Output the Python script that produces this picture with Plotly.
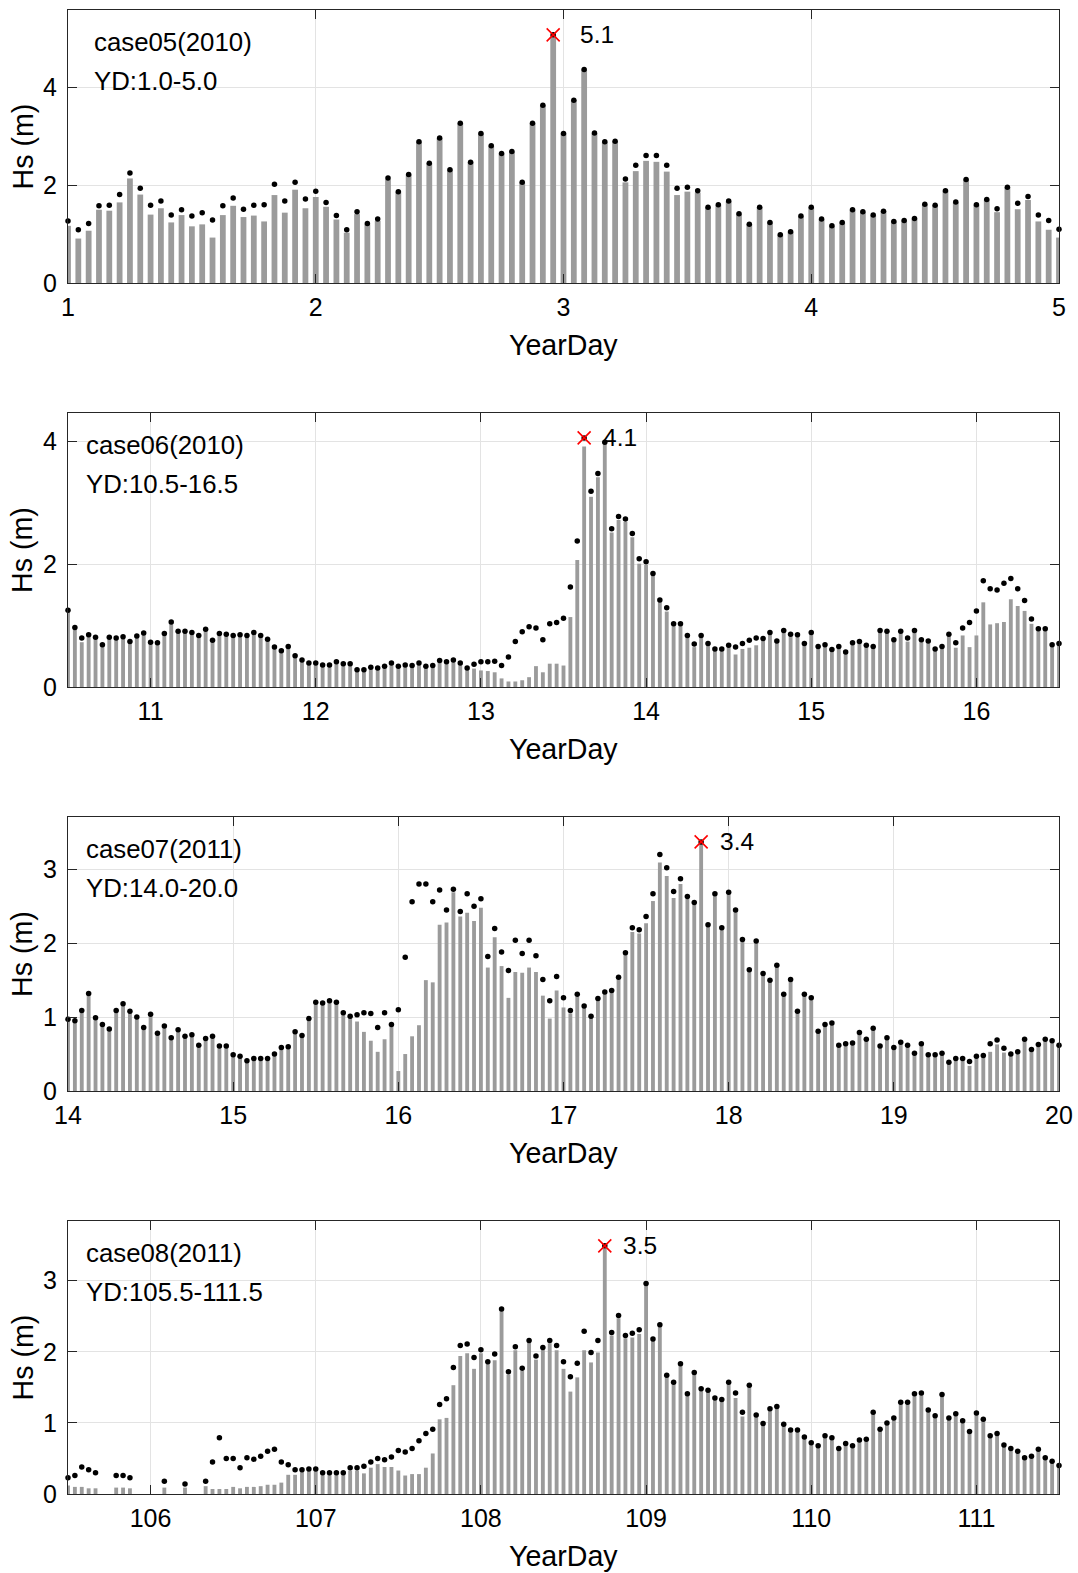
import numpy as np
import plotly.graph_objects as go

# ---------------- data ----------------
start_days = [1.0, 10.5, 14.0, 105.5]
end_days = [5.0, 16.5, 20.0, 111.5]
case_labels = ["case05(2010)", "case06(2010)", "case07(2011)", "case08(2011)"]
yd_labels = ["YD:1.0-5.0", "YD:10.5-16.5", "YD:14.0-20.0", "YD:105.5-111.5"]
xtick_vals = [[1, 2, 3, 4, 5], [11, 12, 13, 14, 15, 16], [14, 15, 16, 17, 18, 19, 20],
              [106, 107, 108, 109, 110, 111]]
ytick_vals = [[0, 2, 4], [0, 2, 4], [0, 1, 2, 3], [0, 1, 2, 3]]

# hourly Hs, black dots
hs_dot_05 = [1.27, 1.09, 1.22, 1.58, 1.59, 1.81, 2.25, 1.94, 1.59, 1.68,
             1.39, 1.50, 1.37, 1.44, 1.29, 1.58, 1.74, 1.51, 1.59, 1.60,
             2.02, 1.68, 2.06, 1.72, 1.88, 1.65, 1.38, 1.09, 1.46, 1.22,
             1.31, 2.15, 1.87, 2.22, 2.89, 2.45, 2.97, 2.32, 3.27, 2.47,
             3.06, 2.81, 2.65, 2.69, 2.06, 3.27, 3.64, 5.08, 3.06, 3.74,
             4.37, 3.07, 2.89, 2.90, 2.13, 2.41, 2.61, 2.61, 2.41, 1.94,
             1.96, 1.89, 1.55, 1.60, 1.68, 1.42, 1.20, 1.55, 1.24, 0.99,
             1.05, 1.37, 1.55, 1.31, 1.17, 1.24, 1.50, 1.46, 1.39, 1.47,
             1.26, 1.28, 1.32, 1.61, 1.59, 1.89, 1.66, 2.12, 1.60, 1.71,
             1.52, 1.96, 1.63, 1.77, 1.39, 1.28, 1.10]
# hourly Hs, grey bars
hs_bar_05 = [1.17, 0.91, 1.07, 1.50, 1.48, 1.65, 2.14, 1.81, 1.40, 1.53,
             1.24, 1.39, 1.16, 1.20, 0.93, 1.39, 1.58, 1.35, 1.38, 1.26,
             1.80, 1.44, 1.91, 1.53, 1.76, 1.56, 1.30, 1.03, 1.41, 1.20,
             1.27, 2.12, 1.87, 2.22, 2.89, 2.45, 2.97, 2.32, 3.27, 2.47,
             3.06, 2.81, 2.65, 2.69, 2.06, 3.27, 3.64, 5.08, 3.06, 3.74,
             4.37, 3.07, 2.89, 2.90, 2.06, 2.29, 2.50, 2.48, 2.28, 1.80,
             1.87, 1.85, 1.55, 1.60, 1.68, 1.42, 1.20, 1.55, 1.24, 0.99,
             1.05, 1.37, 1.55, 1.31, 1.17, 1.24, 1.50, 1.46, 1.39, 1.47,
             1.26, 1.28, 1.32, 1.61, 1.59, 1.89, 1.66, 2.12, 1.60, 1.71,
             1.45, 1.96, 1.51, 1.70, 1.26, 1.09, 0.93]

hs_dot_06 = [1.25, 0.97, 0.80, 0.85, 0.81, 0.69, 0.81, 0.80, 0.82, 0.74,
             0.83, 0.88, 0.73, 0.72, 0.87, 1.06, 0.91, 0.91, 0.89, 0.84,
             0.94, 0.76, 0.87, 0.86, 0.84, 0.85, 0.84, 0.89, 0.84, 0.78,
             0.65, 0.59, 0.66, 0.51, 0.44, 0.39, 0.39, 0.36, 0.36, 0.41,
             0.38, 0.38, 0.28, 0.28, 0.32, 0.31, 0.34, 0.39, 0.34, 0.36,
             0.35, 0.39, 0.34, 0.35, 0.43, 0.41, 0.44, 0.39, 0.31, 0.37,
             0.41, 0.41, 0.42, 0.35, 0.49, 0.74, 0.90, 0.98, 0.96, 0.77,
             1.03, 1.05, 1.12, 1.63, 2.38, 4.06, 3.19, 3.48, 3.99, 2.58,
             2.78, 2.74, 2.50, 2.09, 2.04, 1.85, 1.42, 1.29, 1.03, 1.03,
             0.84, 0.70, 0.84, 0.71, 0.62, 0.62, 0.68, 0.65, 0.71, 0.76,
             0.80, 0.79, 0.89, 0.75, 0.92, 0.86, 0.85, 0.71, 0.89, 0.66,
             0.69, 0.61, 0.66, 0.57, 0.72, 0.74, 0.68, 0.66, 0.92, 0.91,
             0.77, 0.91, 0.80, 0.92, 0.77, 0.75, 0.62, 0.66, 0.86, 0.72,
             0.96, 1.05, 1.24, 1.73, 1.60, 1.58, 1.69, 1.77, 1.60, 1.41,
             1.11, 0.95, 0.95, 0.69, 0.71]
hs_bar_06 = [1.25, 0.97, 0.73, 0.85, 0.81, 0.69, 0.81, 0.80, 0.82, 0.74,
             0.83, 0.88, 0.73, 0.72, 0.87, 1.06, 0.91, 0.91, 0.89, 0.84,
             0.94, 0.76, 0.87, 0.86, 0.84, 0.85, 0.84, 0.89, 0.84, 0.78,
             0.65, 0.59, 0.66, 0.51, 0.44, 0.39, 0.39, 0.36, 0.36, 0.41,
             0.38, 0.38, 0.28, 0.28, 0.32, 0.31, 0.34, 0.39, 0.34, 0.36,
             0.35, 0.39, 0.34, 0.35, 0.43, 0.41, 0.44, 0.39, 0.31, 0.30,
             0.27, 0.26, 0.24, 0.14, 0.09, 0.09, 0.11, 0.16, 0.34, 0.24,
             0.38, 0.38, 0.35, 1.14, 2.07, 3.92, 3.10, 3.42, 3.98, 2.52,
             2.72, 2.69, 2.44, 2.01, 1.99, 1.85, 1.42, 1.23, 1.03, 1.03,
             0.84, 0.65, 0.84, 0.71, 0.62, 0.62, 0.68, 0.53, 0.62, 0.64,
             0.68, 0.79, 0.89, 0.75, 0.92, 0.86, 0.85, 0.71, 0.89, 0.66,
             0.69, 0.61, 0.66, 0.57, 0.72, 0.74, 0.68, 0.66, 0.92, 0.91,
             0.77, 0.91, 0.74, 0.92, 0.77, 0.75, 0.62, 0.66, 0.86, 0.64,
             0.84, 0.65, 0.84, 1.38, 1.02, 1.04, 1.06, 1.43, 1.32, 1.24,
             1.03, 0.95, 0.95, 0.69, 0.71]

hs_dot_07 = [0.97, 0.95, 1.09, 1.32, 0.99, 0.90, 0.84, 1.09, 1.18, 1.08,
             1.00, 0.86, 1.04, 0.78, 0.88, 0.72, 0.83, 0.74, 0.76, 0.62,
             0.71, 0.74, 0.61, 0.61, 0.49, 0.47, 0.41, 0.44, 0.44, 0.44,
             0.50, 0.59, 0.60, 0.80, 0.75, 0.98, 1.20, 1.19, 1.22, 1.20,
             1.06, 1.01, 1.03, 1.06, 1.05, 0.86, 1.06, 0.90, 1.10, 1.81,
             2.56, 2.80, 2.80, 2.56, 2.72, 2.45, 2.73, 2.43, 2.67, 2.50,
             2.60, 1.82, 2.20, 1.88, 1.63, 2.04, 1.86, 2.04, 1.83, 1.51,
             1.22, 1.55, 1.26, 1.09, 1.31, 1.15, 1.01, 1.25, 1.34, 1.36,
             1.54, 1.87, 2.21, 2.18, 2.36, 2.67, 3.20, 3.02, 2.70, 2.87,
             2.63, 2.55, 3.37, 2.25, 2.67, 2.21, 2.69, 2.45, 2.05, 1.64,
             2.03, 1.59, 1.50, 1.70, 1.31, 1.51, 1.08, 1.31, 1.26, 0.81,
             0.90, 0.92, 0.62, 0.64, 0.65, 0.79, 0.70, 0.85, 0.61, 0.72,
             0.59, 0.66, 0.62, 0.51, 0.64, 0.49, 0.49, 0.51, 0.39, 0.44,
             0.44, 0.40, 0.47, 0.48, 0.64, 0.69, 0.58, 0.50, 0.53, 0.70,
             0.56, 0.63, 0.70, 0.68, 0.62]
hs_bar_07 = [0.97, 0.95, 1.09, 1.32, 0.99, 0.90, 0.84, 1.09, 1.18, 1.08,
             1.00, 0.86, 1.04, 0.78, 0.88, 0.72, 0.83, 0.74, 0.76, 0.62,
             0.71, 0.74, 0.61, 0.61, 0.49, 0.47, 0.41, 0.44, 0.44, 0.44,
             0.50, 0.59, 0.60, 0.80, 0.75, 0.98, 1.20, 1.19, 1.22, 1.20,
             1.06, 1.01, 0.94, 0.80, 0.68, 0.53, 0.70, 0.90, 0.27, 0.50,
             0.74, 0.89, 1.50, 1.47, 2.25, 2.28, 2.69, 2.36, 2.41, 2.30,
             2.48, 1.67, 2.08, 1.69, 1.26, 1.61, 1.60, 1.67, 1.61, 1.29,
             0.98, 1.36, 1.13, 1.05, 1.28, 1.15, 1.01, 1.25, 1.34, 1.36,
             1.54, 1.87, 2.15, 2.13, 2.27, 2.57, 3.09, 2.91, 2.61, 2.80,
             2.60, 2.52, 3.37, 2.25, 2.67, 2.21, 2.69, 2.45, 2.05, 1.64,
             2.03, 1.59, 1.50, 1.70, 1.31, 1.51, 1.08, 1.31, 1.26, 0.81,
             0.90, 0.92, 0.62, 0.64, 0.65, 0.79, 0.70, 0.85, 0.61, 0.72,
             0.59, 0.66, 0.62, 0.51, 0.64, 0.49, 0.49, 0.51, 0.39, 0.44,
             0.44, 0.34, 0.47, 0.48, 0.53, 0.63, 0.52, 0.50, 0.53, 0.70,
             0.56, 0.63, 0.70, 0.68, 0.62]

N = None
hs_dot_08 = [0.23, 0.26, 0.38, 0.34, 0.30, N, N, 0.26, 0.26, 0.23,
             N, N, N, N, 0.18, N, N, 0.14, N, N,
             0.18, 0.45, 0.79, 0.50, 0.50, 0.37, 0.51, 0.49, 0.53, 0.60,
             0.63, 0.45, 0.41, 0.34, 0.34, 0.35, 0.35, 0.30, 0.30, 0.30,
             0.30, 0.37, 0.37, 0.39, 0.45, 0.50, 0.48, 0.52, 0.61, 0.59,
             0.64, 0.75, 0.85, 0.91, 1.26, 1.34, 1.78, 2.09, 2.11, 1.92,
             2.03, 1.86, 1.97, 2.60, 1.72, 2.07, 1.77, 2.16, 1.94, 2.06,
             2.16, 2.09, 1.86, 1.65, 1.84, 2.29, 1.99, 2.16, 3.49, 2.27,
             2.51, 2.23, 2.26, 2.31, 2.96, 2.18, 2.38, 1.67, 1.57, 1.83,
             1.41, 1.71, 1.48, 1.46, 1.35, 1.33, 1.57, 1.42, 1.15, 1.53,
             1.11, 0.99, 1.20, 1.23, 0.98, 0.90, 0.90, 0.80, 0.72, 0.68,
             0.82, 0.79, 0.64, 0.71, 0.68, 0.76, 0.77, 1.15, 0.91, 1.00,
             1.07, 1.29, 1.29, 1.41, 1.42, 1.18, 1.10, 1.40, 1.07, 1.13,
             1.03, 0.88, 1.14, 1.05, 0.82, 0.85, 0.69, 0.64, 0.60, 0.51,
             0.53, 0.63, 0.51, 0.46, 0.40]
hs_bar_08 = [0.12, 0.10, 0.10, 0.08, 0.08, N, N, 0.09, 0.09, 0.08,
             N, N, N, N, 0.09, N, N, 0.09, N, N,
             0.11, 0.07, 0.07, 0.07, 0.10, 0.08, 0.10, 0.10, 0.11, 0.13,
             0.13, 0.16, 0.27, 0.27, 0.34, 0.35, 0.35, 0.30, 0.30, 0.30,
             0.30, 0.33, 0.33, 0.29, 0.37, 0.42, 0.38, 0.38, 0.33, 0.26,
             0.28, 0.28, 0.37, 0.57, 1.05, 1.07, 1.53, 1.94, 1.98, 1.76,
             1.98, 1.84, 1.88, 2.60, 1.68, 2.02, 1.73, 2.16, 1.89, 2.03,
             2.12, 2.02, 1.76, 1.44, 1.64, 2.02, 1.85, 1.99, 3.49, 2.23,
             2.47, 2.19, 2.20, 2.25, 2.96, 2.18, 2.38, 1.67, 1.57, 1.83,
             1.41, 1.71, 1.48, 1.46, 1.35, 1.33, 1.57, 1.35, 1.09, 1.53,
             1.11, 0.99, 1.20, 1.23, 0.98, 0.90, 0.90, 0.80, 0.72, 0.68,
             0.82, 0.79, 0.64, 0.71, 0.68, 0.76, 0.77, 1.15, 0.91, 1.00,
             1.07, 1.29, 1.29, 1.41, 1.42, 1.18, 1.10, 1.40, 1.07, 1.13,
             1.03, 0.88, 1.14, 1.05, 0.82, 0.85, 0.69, 0.64, 0.60, 0.51,
             0.53, 0.63, 0.51, 0.46, 0.40]

dots_all = [hs_dot_05, hs_dot_06, hs_dot_07, hs_dot_08]
bars_all = [hs_bar_05, hs_bar_06, hs_bar_07, hs_bar_08]

# ---------------- figure ----------------
W, H = 1078, 1573
ML, MR, MT, MB = 68, 19, 10, 79
plot_h = H - MT - MB
panel_px = [(10, 283), (413, 687), (817, 1091), (1221, 1494)]  # top, bottom in px
domains = [[(H - MB - b) / plot_h, (H - MB - t) / plot_h] for t, b in panel_px]

FONT = "Liberation Sans, Arial, sans-serif"
AXC = "#262626"
GRID = "#e3e3e3"
BARC = "#9b9b9b"

fig = go.Figure()
annotations = []
layout_axes = {}

for i in range(4):
    k = "" if i == 0 else str(i + 1)
    xa, ya = "x" + k, "y" + k
    n = len(dots_all[i])
    xs = start_days[i] + np.arange(n) / 24.0
    dots = np.array([np.nan if v is None else v for v in dots_all[i]], dtype=float)
    bars = [v for v in bars_all[i]]
    ph = panel_px[i][1] - panel_px[i][0]

    fig.add_trace(go.Bar(x=xs, y=bars, width=0.56 / 24.0, marker=dict(color=BARC, line=dict(width=0)),
                         xaxis=xa, yaxis=ya, showlegend=False))
    fig.add_trace(go.Scatter(x=xs, y=dots, mode="markers", marker=dict(color="black", size=5.5),
                             cliponaxis=False, xaxis=xa, yaxis=ya, showlegend=False))
    ip = int(np.nanargmax(dots))
    peak = dots[ip]
    fig.add_trace(go.Scatter(x=[xs[ip]], y=[peak], mode="markers",
                             marker=dict(symbol="x-thin", size=13, line=dict(color="red", width=1.6)),
                             cliponaxis=False, xaxis=xa, yaxis=ya, showlegend=False))
    annotations.append(dict(x=xs[ip] + 0.1, y=peak, xref=xa, yref=ya, text=f"{peak:.1f}",
                            showarrow=False, xanchor="left", yanchor="middle",
                            font=dict(size=24.5, color="black", family=FONT)))

    tx = (92 - ML) / (W - ML - MR) if i == 0 else (84 - ML) / (W - ML - MR)
    annotations.append(dict(x=tx, y=1 - 32 / ph, xref=xa + " domain", yref=ya + " domain",
                            text=case_labels[i], showarrow=False, xanchor="left", yanchor="middle",
                            font=dict(size=25.8, color="black", family=FONT)))
    annotations.append(dict(x=tx, y=1 - 71 / ph, xref=xa + " domain", yref=ya + " domain",
                            text=yd_labels[i], showarrow=False, xanchor="left", yanchor="middle",
                            font=dict(size=25.8, color="black", family=FONT)))
    annotations.append(dict(x=0.5, y=-62 / ph, xref=xa + " domain", yref=ya + " domain",
                            text="YearDay", showarrow=False, xanchor="center", yanchor="middle",
                            font=dict(size=28.6, color="black", family=FONT)))
    annotations.append(dict(x=(22 - ML) / (W - ML - MR), y=0.5, xref=xa + " domain", yref=ya + " domain",
                            text="Hs (m)", showarrow=False, xanchor="center", yanchor="middle",
                            textangle=-90, font=dict(size=28.6, color="black", family=FONT)))

    common = dict(showline=True, linecolor=AXC, linewidth=1, mirror="ticks", ticks="inside",
                  ticklen=9, tickcolor=AXC, tickwidth=1, showgrid=True, gridcolor=GRID, gridwidth=1,
                  zeroline=False, automargin=False,
                  tickfont=dict(size=25, color="black", family=FONT))
    layout_axes["xaxis" + k] = dict(domain=[0, 1], anchor=ya, range=[start_days[i], end_days[i]],
                                    tickmode="array", tickvals=xtick_vals[i],
                                    ticktext=[str(v) for v in xtick_vals[i]],
                                    ticklabelstandoff=2, **common)
    layout_axes["yaxis" + k] = dict(domain=domains[i], anchor=xa, range=[0, 1.1 * peak],
                                    tickmode="array", tickvals=ytick_vals[i],
                                    ticktext=[str(v) for v in ytick_vals[i]],
                                    ticklabelstandoff=5, **common)

fig.update_layout(width=W, height=H, margin=dict(l=ML, r=MR, t=MT, b=MB, autoexpand=False),
                  paper_bgcolor="white", plot_bgcolor="white", barmode="overlay",
                  font=dict(family=FONT, color="black"), annotations=annotations,
                  showlegend=False, **layout_axes)

fig.write_html("out.html")
